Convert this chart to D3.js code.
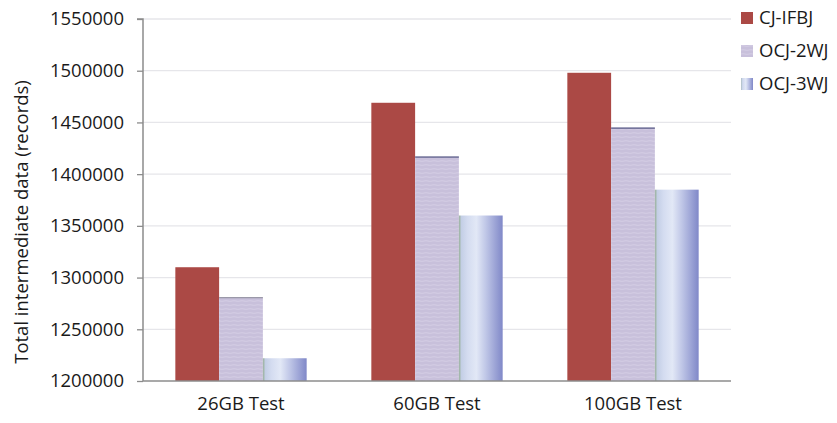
<!DOCTYPE html>
<html><head><meta charset="utf-8">
<script src="https://cdn.jsdelivr.net/npm/d3@7"></script>
<style>body{margin:0;background:#fff}svg{display:block}</style>
</head><body><svg id="c" width="837" height="423"></svg>
<script>
const categories = ["26GB Test", "60GB Test", "100GB Test"];
const seriesNames = ["CJ-IFBJ", "OCJ-2WJ", "OCJ-3WJ"];
const cjIfbj = [1310000, 1469000, 1498000];
const ocj2wj = [1281000, 1417000, 1445000];
const ocj3wj = [1222000, 1360000, 1385000];
const yTicks = [1200000, 1250000, 1300000, 1350000, 1400000, 1450000, 1500000, 1550000];

const svg = d3.select("#c");
const font = "'Open Sans', sans-serif";
const fs = 18.5;
const m = {l:143, r:731, t:19, b:381};

const defs = svg.append("defs");
const pat = defs.append("pattern").attr("id","lav").attr("patternUnits","userSpaceOnUse")
  .attr("width",8).attr("height",4);
pat.append("rect").attr("width",8).attr("height",4).attr("fill","#c8c0db");
pat.append("path").attr("d","M0,1 Q2,0.5 4,1 T8,1").attr("stroke","#d5cee5").attr("stroke-width",1.1).attr("fill","none");
const g = defs.append("linearGradient").attr("id","blu").attr("x1","0").attr("x2","1").attr("y1","0").attr("y2","0");
[[0,"#98b09a"],[0.06,"#c4cfe6"],[0.2,"#d4dcf0"],[0.4,"#e2e8f6"],[0.6,"#c2c9e8"],[1,"#8088c8"]]
  .forEach(([o,c])=>g.append("stop").attr("offset",o).attr("stop-color",c));

const x0 = d3.scaleBand().domain(categories).range([m.l, m.r]).paddingInner(0.33).paddingOuter(0.165);
const x1 = d3.scaleBand().domain(seriesNames).range([0, x0.bandwidth()]);
const y = d3.scaleLinear().domain([1200000, 1550000]).range([m.b, m.t]);

svg.append("g").selectAll("line").data(yTicks.slice(1)).join("line")
  .attr("x1", m.l).attr("x2", m.r).attr("y1", d=>y(d)).attr("y2", d=>y(d))
  .attr("stroke","#e6e6ea").attr("stroke-width",1.3);

const fills = ["#ab4945", "url(#lav)", "url(#blu)"];
const series = [cjIfbj, ocj2wj, ocj3wj];
const data = [];
categories.forEach((c,i)=>series.forEach((s,j)=>data.push({c, s:seriesNames[j], v:s[i], j, i})));

svg.append("g").selectAll("rect").data(data).join("rect")
  .attr("x", d=>x0(d.c)+x1(d.s)).attr("width", x1.bandwidth())
  .attr("y", d=>y(d.v)).attr("height", d=>y(1200000)-y(d.v))
  .attr("fill", d=>fills[d.j]);
svg.append("g").selectAll("line").data(data.filter(d=>d.j===1)).join("line")
  .attr("x1", d=>x0(d.c)+x1(d.s)).attr("x2", d=>x0(d.c)+x1(d.s)+x1.bandwidth())
  .attr("y1", d=>y(d.v)+0.5).attr("y2", d=>y(d.v)+0.5)
  .attr("stroke", d=>d.i===0?"#8a8898":"#3a3f70").attr("stroke-width",1);

const yAxis = d3.axisLeft(y).tickValues(yTicks).tickSize(6).tickPadding(13).tickFormat(d3.format("d"));
const ya = svg.append("g").attr("transform",`translate(${m.l},0)`).call(yAxis);
ya.select(".domain").attr("stroke","#8c8c8c").attr("stroke-width",1.5).attr("d",`M-6,${m.t}H0V${m.b}`);
ya.selectAll(".tick line").attr("stroke","#8c8c8c").attr("stroke-width",1.3);
ya.selectAll(".tick text").attr("font-family",font).attr("font-size",fs).attr("fill","#1a1a1a");

const xAxis = d3.axisBottom(x0).tickSize(0).tickPadding(16);
const xa = svg.append("g").attr("transform",`translate(0,${m.b})`).call(xAxis);
xa.select(".domain").attr("stroke","#8c8c8c").attr("stroke-width",1.5).attr("d",`M${m.l},0H${m.r}`);
xa.selectAll(".tick text").attr("font-family",font).attr("font-size",fs).attr("fill","#1a1a1a");

svg.append("text").attr("transform",`translate(28,${(362+82)/2}) rotate(-90)`)
  .attr("text-anchor","middle").attr("font-family",font).attr("font-size",fs).attr("fill","#1a1a1a")
  .text("Total intermediate data (records)");

const lg = svg.append("g").selectAll("g").data(seriesNames).join("g")
  .attr("transform",(d,i)=>`translate(741,${12+i*33})`);
lg.append("rect").attr("width",12).attr("height",12).attr("fill",(d,i)=>fills[i]);
lg.append("text").attr("x",18).attr("y",6).attr("dy","0.35em").attr("font-family",font)
  .attr("font-size",fs).attr("fill","#1a1a1a").text(d=>d);
</script></body></html>
